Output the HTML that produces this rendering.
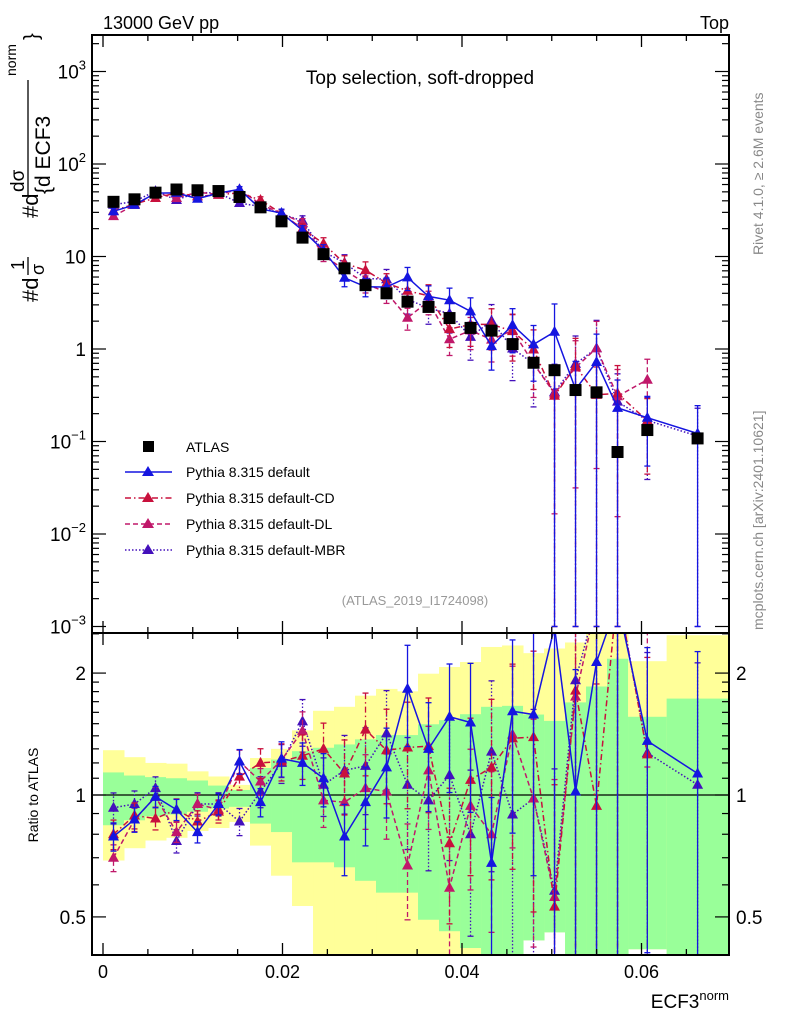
<!DOCTYPE html>
<html><head><meta charset="utf-8"><style>
html,body{margin:0;padding:0;background:#fff;width:786px;height:1024px;overflow:hidden;}
svg{display:block;font-family:"Liberation Sans",sans-serif;overflow:hidden;}
</style></head><body>
<svg id="c" width="786" height="1024" viewBox="0 0 786 1024">
<text x="103" y="29" font-size="18">13000 GeV pp</text>
<text x="729" y="29" font-size="18" text-anchor="end">Top</text>
<text x="420" y="84" font-size="19" text-anchor="middle">Top selection, soft-dropped</text>
<text x="415" y="605" font-size="13" fill="#999" text-anchor="middle">(ATLAS_2019_I1724098)</text>
<text transform="translate(763,255) rotate(-90)" font-size="14" fill="#888">Rivet 4.1.0, ≥ 2.6M events</text>
<text transform="translate(763,630) rotate(-90)" font-size="14" fill="#888">mcplots.cern.ch [arXiv:2401.10621]</text>
<text transform="translate(38,795) rotate(-90)" font-size="14" text-anchor="middle">Ratio to ATLAS</text>
<g font-size="22">
<text transform="translate(38,302) rotate(-90)">#d</text>
<text transform="translate(24,270) rotate(-90)" font-size="18">1</text>
<line x1="28" y1="275" x2="28" y2="257" stroke="#000" stroke-width="1.3"/>
<text transform="translate(44,275) rotate(-90)" font-size="18">σ</text>
<text transform="translate(38,218) rotate(-90)">#d</text>
<text transform="translate(24,192) rotate(-90)" font-size="19">dσ</text>
<line x1="28" y1="196" x2="28" y2="80" stroke="#000" stroke-width="1.3"/>
<text transform="translate(50,194) rotate(-90)" font-size="21">{d ECF3</text>
<text transform="translate(16,76) rotate(-90)" font-size="14">norm</text>
<text transform="translate(38,40) rotate(-90)" font-size="20">}</text>
</g>
<text x="729" y="1008" font-size="19" text-anchor="end">ECF3<tspan dy="-8" font-size="13">norm</tspan></text>
<g id="g"></g>
<g font-size="14">
<rect x="143" y="441" width="11" height="11" fill="#000"/>
<text x="186" y="452">ATLAS</text>
<line x1="125" y1="472" x2="172" y2="472" stroke="#1515e0" stroke-width="1.5"/>
<polygon points="148,466 154,476 142,476" fill="#1515e0"/>
<text x="186" y="477">Pythia 8.315 default</text>
<line x1="125" y1="498" x2="172" y2="498" stroke="#c8103c" stroke-width="1.5" stroke-dasharray="6,3,1.5,3"/>
<polygon points="148,492 154,502 142,502" fill="#c8103c"/>
<text x="186" y="503">Pythia 8.315 default-CD</text>
<line x1="125" y1="524" x2="172" y2="524" stroke="#c0186a" stroke-width="1.5" stroke-dasharray="5,3"/>
<polygon points="148,518 154,528 142,528" fill="#c0186a"/>
<text x="186" y="529">Pythia 8.315 default-DL</text>
<line x1="125" y1="550" x2="172" y2="550" stroke="#4410bb" stroke-width="1.5" stroke-dasharray="1.5,2"/>
<polygon points="148,544 154,554 142,554" fill="#4410bb"/>
<text x="186" y="555">Pythia 8.315 default-MBR</text>
</g>
</svg>
<script>
const binEdges=[0,0.00234,0.00468,0.00702,0.00936,0.0117,0.01404,0.01638,0.01872,0.02106,0.0234,0.02574,0.02808,0.03042,0.03276,0.0351,0.03744,0.03978,0.04212,0.04446,0.0468,0.04914,0.05148,0.05382,0.05616,0.0585,0.0628,0.0697];
const atlasVals=[39,41.5,49,53,52,51,44,34,24,16,10.6,7.45,4.9,4.0,3.25,2.85,2.16,1.69,1.58,1.13,0.71,0.59,0.36,0.34,0.077,0.133,0.108];
const ratioDefault=[0.79,0.87,0.99,0.92,0.81,0.95,1.21,0.96,1.23,1.2,1.10,0.79,0.96,1.17,1.83,1.30,1.56,1.51,0.68,1.61,1.58,2.6,1.02,2.13,3.0,1.36,1.13];
const ratioCD=[0.80,0.89,0.875,0.92,0.86,0.91,1.11,1.2,1.21,1.25,1.30,1.13,1.45,1.29,1.31,1.32,0.76,1.09,1.17,1.38,1.39,0.53,1.81,0.94,4.3,1.26,null];
const ratioDL=[0.70,0.87,0.99,0.81,0.95,0.92,1.21,1.08,1.22,1.44,0.97,0.96,1.04,1.02,0.67,1.15,0.59,0.94,0.80,1.41,0.98,0.56,1.75,3.0,4.0,3.5,null];
const ratioMBR=[0.93,0.95,1.04,0.77,0.95,0.95,0.86,1.02,1.20,1.52,1.06,1.15,1.18,1.42,1.06,0.97,1.12,0.80,1.28,0.895,0.98,0.58,1.92,3.0,3.5,1.27,1.06];
const relErrMC=[0.08,0.07,0.06,0.06,0.06,0.06,0.07,0.08,0.1,0.12,0.15,0.2,0.22,0.25,0.28,0.3,0.35,0.4,0.45,0.5,0.6,1,1,1,1,0.7,1];
const bandYellowHi=[1.29,1.24,1.20,1.195,1.144,1.111,1.059,1.234,1.30,1.444,1.614,1.651,1.759,1.828,1.803,1.993,2.07,2.13,2.32,2.34,2.24,2.30,2.38,2.5,3.0,2.14,2.48];
const bandYellowLo=[0.689,0.739,0.772,0.784,0.815,0.829,0.858,0.750,0.632,0.532,0.3,0.3,0.3,0.3,0.3,0.3,0.3,0.3,0.3,0.3,0.4375,0.458,0.3,0.3,0.3,0.416,0.3];
const bandGreenHi=[1.137,1.117,1.107,1.10,1.086,1.055,1.029,1.166,1.223,1.283,1.308,1.333,1.372,1.406,1.406,1.495,1.53,1.583,1.651,1.66,1.58,1.524,1.693,1.853,2.17,1.56,1.73];
const bandGreenLo=[0.842,0.866,0.886,0.895,0.909,0.926,0.935,0.850,0.810,0.682,0.682,0.663,0.614,0.574,0.574,0.492,0.461,0.419,0.3,0.3,0.4375,0.458,0.3,0.3,0.3,0.416,0.3];
const xTicks=[0,0.02,0.04,0.06];
const xTickLabels=["0","0.02","0.04","0.06"];
const ratioTicks=[0.5,1,2];

const NS="http://www.w3.org/2000/svg";
const g=document.getElementById('g');
const L=92,R=729,T=35,M=633,B=955;
const X=v=>103+v*8975;
const Y=v=>349-92.5*Math.log10(Math.min(Math.max(v,1e-3),2000));
const RY=v=>795-405*Math.log10(Math.min(Math.max(v,0.36),3.2));
function mk(t,a,p){const e=document.createElementNS(NS,t);for(const k in a)e.setAttribute(k,a[k]);(p||g).appendChild(e);return e;}
const cx=i=>X((binEdges[i]+binEdges[i+1])/2);

const defs=mk('defs',{});
const c1=mk('clipPath',{id:'cm'},defs);mk('rect',{x:L,y:T,width:R-L,height:M-T},c1);
const c2=mk('clipPath',{id:'cr'},defs);mk('rect',{x:L,y:M,width:R-L,height:B-M},c2);

const bands=mk('g',{'clip-path':'url(#cr)'});


for(let i=0;i<atlasVals.length;i++){
  const x0=X(binEdges[i]),x1=X(binEdges[i+1]);
  const ry=mk('rect',{x:x0,y:RY(bandYellowHi[i]),width:x1-x0+0.5,height:RY(bandYellowLo[i])-RY(bandYellowHi[i]),fill:'#ffff99'},bands);
  
  
  const rg=mk('rect',{x:x0,y:RY(bandGreenHi[i]),width:x1-x0+0.5,height:RY(bandGreenLo[i])-RY(bandGreenHi[i]),fill:'#99ff99'},bands);
  
  
}
mk('line',{x1:L,y1:RY(1),x2:R,y2:RY(1),stroke:'#000','stroke-width':1.3});

const series=[
 {n:'default',r:ratioDefault,c:'#1515e0',d:'',k:1.0},
 {n:'default-cd',r:ratioCD,c:'#c8103c',d:'6,3,1.5,3',k:1.05},
 {n:'default-dl',r:ratioDL,c:'#c0186a',d:'5,3',k:0.95},
 {n:'default-mbr',r:ratioMBR,c:'#4410bb',d:'1.5,2',k:1.1}];
function tri(p,x,y,c,name){const t=mk('polygon',{points:`${x},${y-6} ${x+5.5},${y+4} ${x-5.5},${y+4}`,fill:c},p);
 
 }
function ebar(p,x,y1,y2,c,d){mk('line',{x1:x,y1:y1,x2:x,y2:y2,stroke:c,'stroke-width':1.3,'stroke-dasharray':d},p);
 mk('line',{x1:x-3,y1:y1,x2:x+3,y2:y1,stroke:c,'stroke-width':1.3},p);
 mk('line',{x1:x-3,y1:y2,x2:x+3,y2:y2,stroke:c,'stroke-width':1.3},p);}
series.slice().reverse().forEach(s=>{
 const gm=mk('g',{'clip-path':'url(#cm)'});
 
 
 const gr=mk('g',{'clip-path':'url(#cr)'});
 
 
 let pm=[],pr=[];
 s.r.forEach((r,i)=>{if(r==null)return;const v=r*atlasVals[i];const e=Math.min(relErrMC[i]*s.k,1);
  pm.push([cx(i),Y(v)]);pr.push([cx(i),RY(r)]);
  ebar(gm,cx(i),Y(v*(1+e)),Y(v*(1-e)),s.c,s.d);
  ebar(gr,cx(i),RY(r*(1+e)),RY(r*(1-e)),s.c,s.d);});
 mk('polyline',{points:pm.map(p=>p.join(',')).join(' '),fill:'none',stroke:s.c,'stroke-width':1.5,'stroke-dasharray':s.d},gm);
 mk('polyline',{points:pr.map(p=>p.join(',')).join(' '),fill:'none',stroke:s.c,'stroke-width':1.5,'stroke-dasharray':s.d},gr);
 pm.forEach(p=>tri(gm,p[0],p[1],s.c,'point-'+s.n));
 pr.forEach(p=>tri(gr,p[0],p[1],s.c,'ratio-point-'+s.n));
});
const ga=mk('g',{'clip-path':'url(#cm)'});


atlasVals.forEach((v,i)=>{const r=mk('rect',{x:cx(i)-6,y:Y(v)-6,width:12,height:12,fill:'#000'},ga);
 
 });

mk('rect',{x:L,y:T,width:R-L,height:M-T,fill:'none',stroke:'#000','stroke-width':2});
mk('rect',{x:L,y:M,width:R-L,height:B-M,fill:'none',stroke:'#000','stroke-width':2});
for(let v=0;v<=0.0697;v+=0.005){const x=X(v);const maj=Math.abs(v/0.02-Math.round(v/0.02))<1e-6;const l=maj?12:6;
 [[T,1],[M,-1],[M,1],[B,-1]].forEach(([y,s])=>mk('line',{x1:x,y1:y,x2:x,y2:y+s*l,stroke:'#000','stroke-width':1.3}));}
xTicks.forEach((v,i)=>{const t=mk('text',{x:X(v),y:978,'font-size':18,'text-anchor':'middle'});t.textContent=xTickLabels[i];
 
 });
for(let e=-3;e<=3;e++){for(let m=1;m<10;m++){const v=m*Math.pow(10,e);const y=349-92.5*Math.log10(v);if(y<T||y>M)continue;const l=m==1?14:7;
 mk('line',{x1:L,y1:y,x2:L+l,y2:y,stroke:'#000','stroke-width':1.2});mk('line',{x1:R,y1:y,x2:R-l,y2:y,stroke:'#000','stroke-width':1.2});}
 const y=Y(Math.pow(10,e));const t=mk('text',{x:86,y:y+7,'font-size':19,'text-anchor':'end'});
 
 
 if(e==0)t.textContent='1';else if(e==1)t.textContent='10';
 else{t.textContent='10';const s=mk('tspan',{dy:-9,'font-size':13},t);s.textContent=e==-1?'−1':e==-2?'−2':e==-3?'−3':String(e);}
}
[0.4,0.5,0.6,0.7,0.8,0.9,1,1.1,1.2,1.3,1.4,1.5,1.6,1.7,1.8,1.9,2,2.5].forEach(v=>{const y=795-405*Math.log10(v);if(y<M||y>B)return;const l=ratioTicks.includes(v)?14:7;
 mk('line',{x1:L,y1:y,x2:L+l,y2:y,stroke:'#000','stroke-width':1.2});mk('line',{x1:R,y1:y,x2:R-l,y2:y,stroke:'#000','stroke-width':1.2});});
ratioTicks.forEach(v=>{[[86,'end'],[736,'start']].forEach(([x,a])=>{const t=mk('text',{x:x,y:RY(v)+7,'font-size':19,'text-anchor':a});t.textContent=String(v);
 
 });});
</script>
</body></html>
